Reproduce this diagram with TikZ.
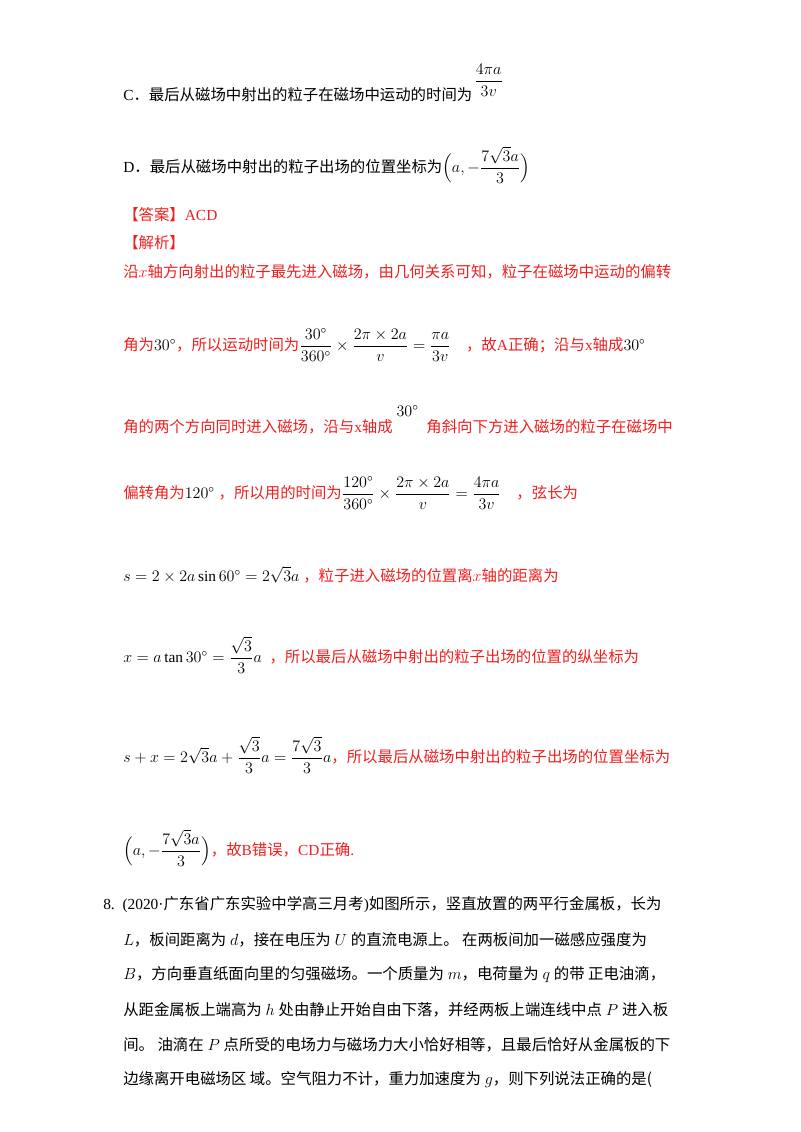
\documentclass[tikz,border=0pt]{standalone}
\usepackage{fontspec}
\setmainfont{Liberation Serif}
\newfontfamily\cjk{Noto Sans CJK SC}
\usepackage{amsmath}
\definecolor{ansred}{RGB}{240,30,30}
\newcommand{\zh}[1]{{\cjk #1}}
\begin{document}
\begin{tikzpicture}[x=0.02625cm,y=-0.02625cm,
  txt/.style={anchor=west,inner sep=0pt,font=\fontsize{11.5}{13}\selectfont},
  rtxt/.style={txt,text=ansred}]
  \useasboundingbox (0,0) rectangle (800,1132);
  % options C and D
  \node[txt] (optC) at (123,95) {C\zh{．最后从磁场中射出的粒子在磁场中运动的时间为}};
  \node[txt] (fracC) at (474,80) {$\dfrac{4\pi a}{3v}$};
  \node[txt] (optD) at (123,165) {D\zh{．最后从磁场中射出的粒子出场的位置坐标为}$\Bigl(a,-\dfrac{7\sqrt{3}a}{3}\Bigr)$};
  % answer
  \node[rtxt] (ans) at (123,215) {\zh{【答案】}ACD};
  \node[rtxt] (sol) at (123,243) {\zh{【解析】}};
  % solution lines
  \node[rtxt] (s1) at (123,272) {\zh{沿}$x$\zh{轴方向射出的粒子最先进入磁场，由几何关系可知，粒子在磁场中运动的偏转}};
  \node[rtxt] (s2) at (123,345) {\zh{角为}\textcolor{black}{$30^\circ$}\zh{，所以运动时间为}\textcolor{black}{$\dfrac{30^\circ}{360^\circ}\times\dfrac{2\pi\times2a}{v}=\dfrac{\pi a}{3v}$}\quad\zh{，故}A\zh{正确；沿与}x\zh{轴成}\textcolor{black}{\large$30^\circ$}};
  \node[rtxt] (s3) at (123,420) {\zh{角的两个方向同时进入磁场，沿与}x\zh{轴成}\ \raisebox{12pt}{\textcolor{black}{$30^\circ$}}\ \ \zh{角斜向下方进入磁场的粒子在磁场中}};
  \node[rtxt] (s4) at (123,493) {\zh{偏转角为}\textcolor{black}{$120^\circ$}\ \zh{，所以用的时间为}\textcolor{black}{$\dfrac{120^\circ}{360^\circ}\times\dfrac{2\pi\times2a}{v}=\dfrac{4\pi a}{3v}$}\quad\zh{，弦长为}};
  \node[rtxt] (s5) at (123,575) {\textcolor{black}{$s=2\times2a\sin60^\circ=2\sqrt{3}a$}\ \zh{，粒子进入磁场的位置离}$x$\zh{轴的距离为}};
  \node[rtxt] (s6) at (123,655) {\textcolor{black}{$x=a\tan30^\circ=\dfrac{\sqrt{3}}{3}a$}\ \ \zh{，所以最后从磁场中射出的粒子出场的位置的纵坐标为}};
  \node[rtxt] (s7) at (123,755) {\textcolor{black}{$s+x=2\sqrt{3}a+\dfrac{\sqrt{3}}{3}a=\dfrac{7\sqrt{3}}{3}a$}\zh{，所以最后从磁场中射出的粒子出场的位置坐标为}};
  \node[rtxt] (s8) at (123,848) {\textcolor{black}{$\Bigl(a,-\dfrac{7\sqrt{3}a}{3}\Bigr)$}\zh{，故}B\zh{错误，}CD\zh{正确}.};
  % question 8
  \node[txt] (q1) at (103,905) {8.\ \ (2020·\zh{广东省广东实验中学高三月考})\zh{如图所示，竖直放置的两平行金属板，长为}};
  \node[txt] (q2) at (123,940) {$L$\zh{，板间距离为} $d$\zh{，接在电压为} $U$ \zh{的直流电源上。 在两板间加一磁感应强度为}};
  \node[txt] (q3) at (123,975) {$B$\zh{，方向垂直纸面向里的匀强磁场。一个质量为} $m$\zh{，电荷量为} $q$ \zh{的带 正电油滴，}};
  \node[txt] (q4) at (123,1010) {\zh{从距金属板上端高为} $h$ \zh{处由静止开始自由下落，并经两板上端连线中点} $P$ \zh{进入板}};
  \node[txt] (q5) at (123,1045) {\zh{间。 油滴在} $P$ \zh{点所受的电场力与磁场力大小恰好相等，且最后恰好从金属板的下}};
  \node[txt] (q6) at (123,1080) {\zh{边缘离开电磁场区 域。空气阻力不计，重力加速度为} $g$\zh{，则下列说法正确的是(}};
\end{tikzpicture}
\end{document}
